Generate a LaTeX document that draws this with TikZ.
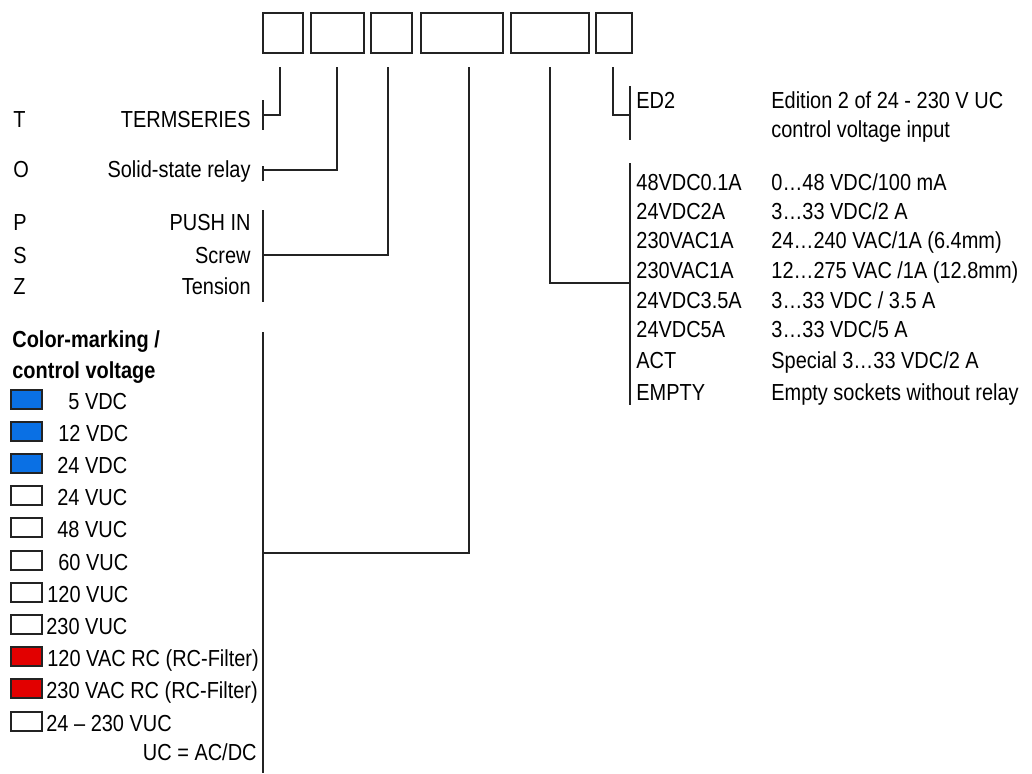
\documentclass[tikz,border=0pt]{standalone}
\usepackage{fontspec}
\setmainfont[FakeStretch=0.86]{Liberation Sans}
\usepackage{xcolor}
\usetikzlibrary{positioning,calc}

\definecolor{linegray}{RGB}{35,35,35}
\definecolor{markblue}{RGB}{10,112,228}
\definecolor{markred}{RGB}{226,0,0}

\tikzset{
  codebox/.style={draw=linegray, line width=1pt, minimum height=20pt, inner sep=0pt},
  txt/.style={inner sep=0pt, text=black, font=\fontsize{11.6pt}{13pt}\selectfont},
  hdr/.style={txt, font=\bfseries\fontsize{11.6pt}{13pt}\selectfont},
  swatch/.style={draw=linegray, line width=0.8pt, minimum width=15.5pt, minimum height=9.5pt, inner sep=0pt},
  conn/.style={draw=linegray, line width=1.1pt}
}

\begin{document}
\begin{tikzpicture}[x=0.5pt, y=-0.5pt]

\useasboundingbox (0,0) rectangle (1032,773);

% Code boxes

\node[codebox, minimum width=20pt]   (BoxT) at (283,33)   {};
\node[codebox, minimum width=26.5pt] (BoxO) at (337.5,33) {};
\node[codebox, minimum width=20.5pt] (BoxP) at (391.5,33) {};
\node[codebox, minimum width=41pt]   (BoxV) at (462,33)   {};
\node[codebox, minimum width=39pt]   (BoxR) at (550,33)   {};
\node[codebox, minimum width=18pt]   (BoxE) at (614,33)   {};

% Series, relay type, connection

\node[txt, anchor=base west] (letT) at (13,127) {T};
\node[txt, anchor=base east] (descT) at (251,127) {TERMSERIES};
\node[txt, anchor=base west] (letO) at (13,177) {O};
\node[txt, anchor=base east] (descO) at (251,177) {Solid-state relay};
\node[txt, anchor=base west] (letP) at (13,230) {P};
\node[txt, anchor=base east] (descP) at (251,230) {PUSH IN};
\node[txt, anchor=base west] (letS) at (13,263) {S};
\node[txt, anchor=base east] (descS) at (251,263) {Screw};
\node[txt, anchor=base west] (letZ) at (13,294) {Z};
\node[txt, anchor=base east] (descZ) at (251,294) {Tension};

% Color-marking / control voltage

\node[hdr, anchor=base west] (hdrV1) at (12,347) {Color-marking /};
\node[hdr, anchor=base west] (hdrV2) at (12,378) {control voltage};

\node[swatch, fill=markblue] (swV1)  at (26.5,399.5) {};
\node[swatch, fill=markblue] (swV2)  at (26.5,431.5) {};
\node[swatch, fill=markblue] (swV3)  at (26.5,463.5) {};
\node[swatch, fill=white]    (swV4)  at (26.5,495.5) {};
\node[swatch, fill=white]    (swV5)  at (26.5,527.5) {};
\node[swatch, fill=white]    (swV6)  at (26.5,560.5) {};
\node[swatch, fill=white]    (swV7)  at (26.5,592.5) {};
\node[swatch, fill=white]    (swV8)  at (26.5,624.5) {};
\node[swatch, fill=markred]  (swV9)  at (26.5,656.5) {};
\node[swatch, fill=markred]  (swV10) at (26.5,688.5) {};
\node[swatch, fill=white]    (swV11) at (26.5,721.5) {};

\node[txt, anchor=base west] (lblV1)  at (68,409) {5 VDC};
\node[txt, anchor=base west] (lblV2)  at (58,441) {12 VDC};
\node[txt, anchor=base west] (lblV3)  at (57,473) {24 VDC};
\node[txt, anchor=base west] (lblV4)  at (57,505) {24 VUC};
\node[txt, anchor=base west] (lblV5)  at (57,537) {48 VUC};
\node[txt, anchor=base west] (lblV6)  at (58,570) {60 VUC};
\node[txt, anchor=base west] (lblV7)  at (47,602) {120 VUC};
\node[txt, anchor=base west] (lblV8)  at (46,634) {230 VUC};
\node[txt, anchor=base west] (lblV9)  at (47,666) {120 VAC RC (RC-Filter)};
\node[txt, anchor=base west] (lblV10) at (46,698) {230 VAC RC (RC-Filter)};
\node[txt, anchor=base west] (lblV11) at (46,731) {24 – 230 VUC};

\node[txt, anchor=base east] (noteUC) at (257,760) {UC = AC/DC};

% Edition

\node[txt, anchor=base west] (codeED) at (636,108) {ED2};
\node[txt, anchor=base west] (descED1) at (771,108) {Edition 2 of 24 - 230 V UC};
\node[txt, anchor=base west] (descED2) at (771,137) {control voltage input};

% Relay rating

\node[txt, anchor=base west] (codeR1) at (636,190) {48VDC0.1A};
\node[txt, anchor=base west] (codeR2) at (636,219) {24VDC2A};
\node[txt, anchor=base west] (codeR3) at (636,248) {230VAC1A};
\node[txt, anchor=base west] (codeR4) at (636,278) {230VAC1A};
\node[txt, anchor=base west] (codeR5) at (636,308) {24VDC3.5A};
\node[txt, anchor=base west] (codeR6) at (636,337) {24VDC5A};
\node[txt, anchor=base west] (codeR7) at (636,368) {ACT};
\node[txt, anchor=base west] (codeR8) at (636,400) {EMPTY};

\node[txt, anchor=base west] (descR1) at (771,190) {0…48 VDC/100 mA};
\node[txt, anchor=base west] (descR2) at (771,219) {3…33 VDC/2 A};
\node[txt, anchor=base west] (descR3) at (771,248) {24…240 VAC/1A (6.4mm)};
\node[txt, anchor=base west] (descR4) at (771,278) {12…275 VAC /1A (12.8mm)};
\node[txt, anchor=base west] (descR5) at (771,308) {3…33 VDC / 3.5 A};
\node[txt, anchor=base west] (descR6) at (771,337) {3…33 VDC/5 A};
\node[txt, anchor=base west] (descR7) at (771,368) {Special 3…33 VDC/2 A};
\node[txt, anchor=base west] (descR8) at (771,400) {Empty sockets without relay};

% Bracket ends

\coordinate (brkT1) at (263,100);
\coordinate (brkT2) at (263,130);
\coordinate (brkO1) at (263,166);
\coordinate (brkO2) at (263,181);
\coordinate (brkP1) at (263,210);
\coordinate (brkP2) at (263,302);
\coordinate (brkV1) at (263,332);
\coordinate (brkV2) at (263,773);
\coordinate (brkE1) at (630,86);
\coordinate (brkE2) at (630,140);
\coordinate (brkR1) at (630,163);
\coordinate (brkR2) at (630,405);

\draw[conn] (brkT1) -- (brkT2);
\draw[conn] (brkO1) -- (brkO2);
\draw[conn] (brkP1) -- (brkP2);
\draw[conn] (brkV1) -- (brkV2);
\draw[conn] (brkE1) -- (brkE2);
\draw[conn] (brkR1) -- (brkR2);

% Leads from the boxes

\coordinate (tapT) at (280,67);
\coordinate (tapO) at (337,67);
\coordinate (tapP) at (388,67);
\coordinate (tapV) at (469,67);
\coordinate (tapR) at (550,67);
\coordinate (tapE) at (613,67);

\coordinate (joinT) at (263,115);
\coordinate (joinO) at (263,170);
\coordinate (joinP) at (263,255);
\coordinate (joinV) at (263,553);
\coordinate (joinR) at (630,283);
\coordinate (joinE) at (630,115);

\draw[conn] (tapT) |- (joinT);
\draw[conn] (tapO) |- (joinO);
\draw[conn] (tapP) |- (joinP);
\draw[conn] (tapV) |- (joinV);
\draw[conn] (tapR) |- (joinR);
\draw[conn] (tapE) |- (joinE);

\end{tikzpicture}
\end{document}
